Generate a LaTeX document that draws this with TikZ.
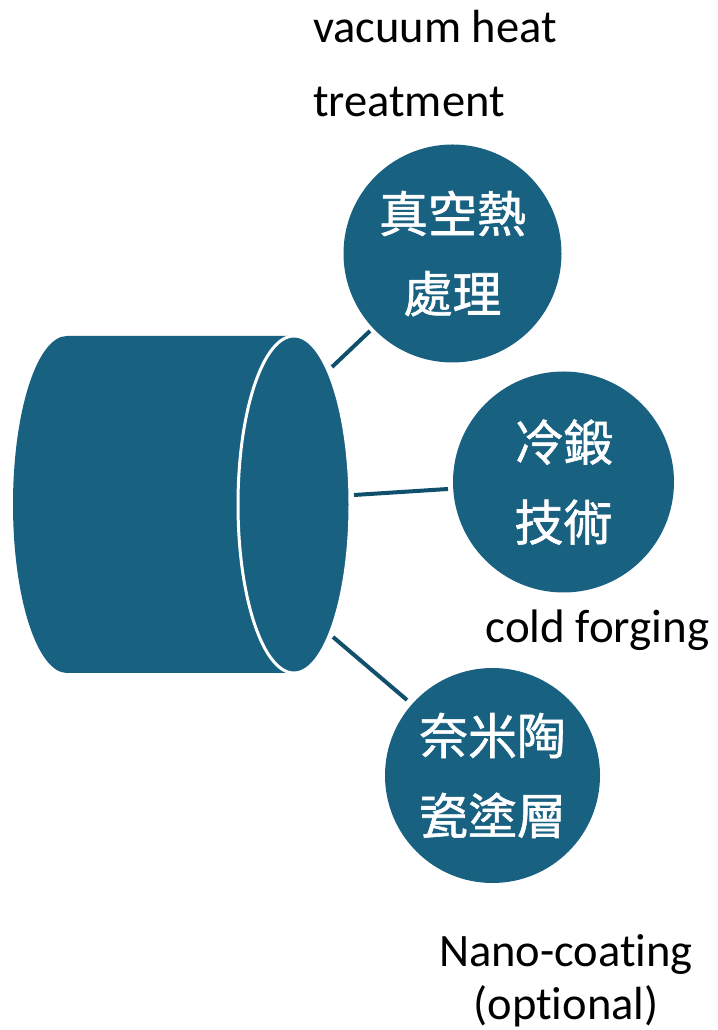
\documentclass[tikz,border=0pt]{standalone}
\usepackage{fontspec}
\setmainfont{Carlito}[Ligatures={TeX,NoCommon}]
\newfontfamily\cjk{Noto Sans CJK TC}[FakeBold=1.2]
\definecolor{mainblue}{RGB}{24,97,129}
\definecolor{linkblue}{RGB}{16,80,108}
\tikzset{
  topic/.style={circle, fill=mainblue, inner sep=0pt, text=white, align=center,
    font=\cjk\fontsize{49}{80}\selectfont},
  link/.style={draw=linkblue, line width=4pt},
  label/.style={inner sep=0pt, text=black},
}
\begin{document}
\begin{tikzpicture}[x=1pt,y=1pt]
\useasboundingbox (0,0) rectangle (717,1030);
% cylinder body
\fill[mainblue] (294,694) -- (67,694) arc[start angle=90,end angle=270,x radius=54pt,y radius=168.5pt] -- (294,357) -- cycle;
% front face
\filldraw[fill=mainblue, draw=white, line width=3pt] (294,525.5) ellipse [x radius=56pt, y radius=168.5pt];
% topic circles
\node[topic, minimum size=218pt] (c1) at (452.5,776.5) {真空熱\\處理};
\node[topic, minimum size=221pt] (c2) at (563.5,548) {冷鍛\\技術};
\node[topic, minimum size=215pt] (c3) at (492.5,254.5) {奈米陶\\瓷塗層};
% connector ends
\coordinate (a1) at (332,663);
\coordinate (b1) at (370,699);
\coordinate (a2) at (354,535);
\coordinate (b2) at (448,541);
\coordinate (a3) at (333,393);
\coordinate (b3) at (407,330);
\draw[link] (a1) -- (b1);
\draw[link] (a2) -- (b2);
\draw[link] (a3) -- (b3);
% labels
\node[label, anchor=base west, align=left, font=\fontsize{46.5}{74}\selectfont] (t1) at (313,913) {vacuum heat\\treatment};
\node[label, anchor=base, font=\fontsize{47}{55}\selectfont] (t2) at (597.5,387) {cold forging};
\node[label, anchor=base, align=center, font=\fontsize{46.5}{53}\selectfont] (t3) at (566,10) {Nano-coating\\(optional)};
\end{tikzpicture}
\end{document}
